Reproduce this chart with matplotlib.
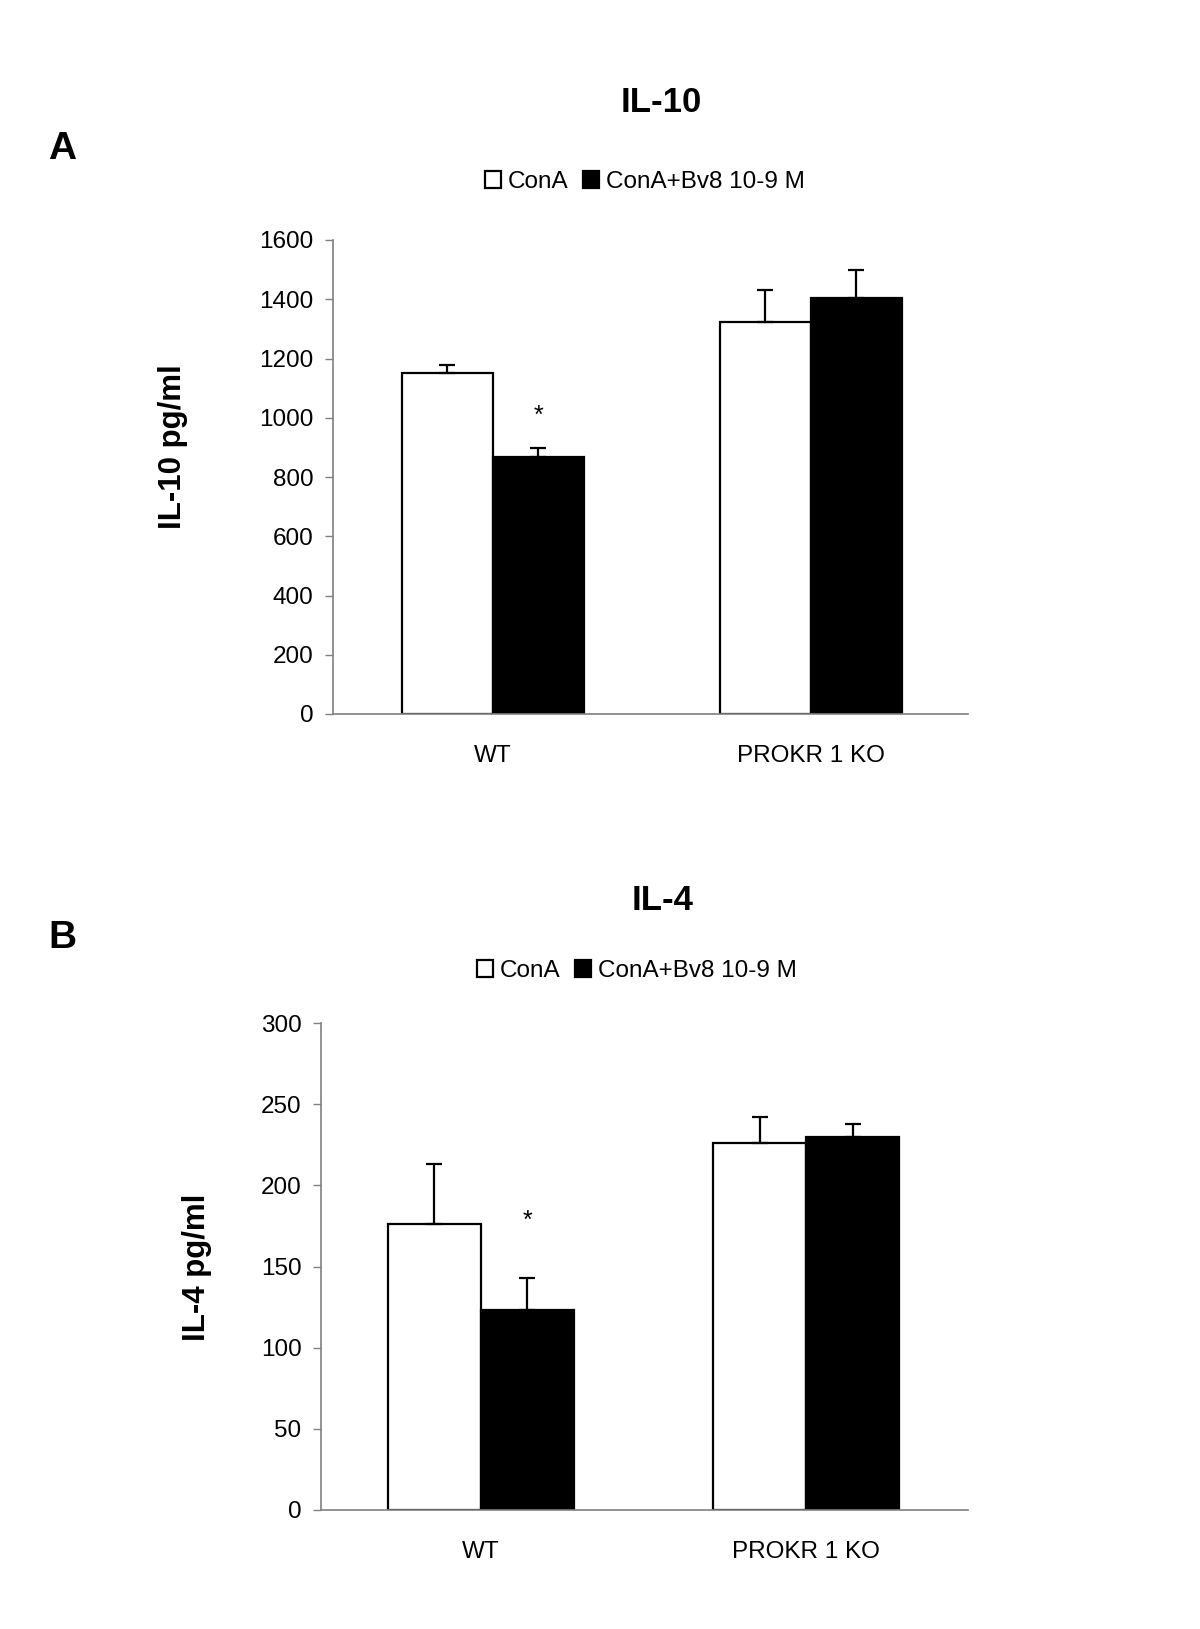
import numpy as np
import matplotlib
matplotlib.use("Agg")
import matplotlib.pyplot as plt

plt.rcParams['font.family'] = ['Liberation Sans', 'DejaVu Sans']

# Donnees
groupes = ["WT", "PROKR 1 KO"]
series = ["ConA", "ConA+Bv8 10-9 M"]

il10_cona = [1151, 1322]
il10_cona_err = [28, 110]
il10_bv8 = [866, 1404]
il10_bv8_err = [33, 96]
il10_ticks = [0, 200, 400, 600, 800, 1000, 1200, 1400, 1600]

il4_cona = [176, 226]
il4_cona_err = [37, 16]
il4_bv8 = [123, 230]
il4_bv8_err = [20, 8]
il4_ticks = [0, 50, 100, 150, 200, 250, 300]

# etoile (significatif) sur la barre Bv8 du WT
star_il10 = 1005
star_il4 = 178

W, H = 1200, 1629
fig = plt.figure(figsize=(W / 100, H / 100), dpi=100)

gris = '#808080'
bw = 0.286


def panneau(rect, xlim, cona, cona_err, bv8, bv8_err, ticks, star_y, ylab, lab_xy):
    ax = fig.add_axes(rect)
    x = np.arange(len(groupes))
    b1 = ax.bar(x - bw / 2, cona, bw, color='white', edgecolor='black', linewidth=1.6,
                label=series[0], zorder=2)
    b2 = ax.bar(x + bw / 2, bv8, bw, color='black', edgecolor='black', linewidth=1.6,
                label=series[1], zorder=2)
    ax.errorbar(x - bw / 2, cona, yerr=[np.zeros(len(cona)), cona_err], fmt='none',
                ecolor='black', elinewidth=1.6, capsize=6, capthick=1.6, zorder=3)
    ax.errorbar(x + bw / 2, bv8, yerr=[np.zeros(len(bv8)), bv8_err], fmt='none',
                ecolor='black', elinewidth=1.6, capsize=6, capthick=1.6, zorder=3)
    ax.text(x[0] + bw / 2, star_y, '*', ha='center', va='center', fontsize=18)

    ax.set_xlim(*xlim)
    ax.set_ylim(ticks[0], ticks[-1])
    ax.set_yticks(ticks)
    ax.set_yticklabels([str(t) for t in ticks])
    ax.set_xticks(x)
    ax.set_xticklabels(groupes)
    ax.tick_params(axis='x', length=0, pad=22, labelsize=17.5)
    ax.tick_params(axis='y', length=6, width=1, color=gris, pad=8, labelsize=17.5)
    for s in ['top', 'right']:
        ax.spines[s].set_visible(False)
    for s in ['left', 'bottom']:
        ax.spines[s].set_color(gris)
        ax.spines[s].set_linewidth(1.2)
    fig.text(lab_xy[0] / W, 1 - lab_xy[1] / H, ylab, rotation=90, ha='center', va='center',
             fontsize=22.5, fontweight='bold')
    return ax, b1, b2


# Panneau A
axA, a1, a2 = panneau([333 / W, 1 - 714 / H, 635 / W, 474 / H], (-0.503, 1.494),
                      il10_cona, il10_cona_err, il10_bv8, il10_bv8_err,
                      il10_ticks, star_il10, "IL-10 pg/ml", (173, 447))
# Panneau B
axB, c1, c2 = panneau([321 / W, 1 - 1510 / H, 647 / W, 487 / H], (-0.492, 1.498),
                      il4_cona, il4_cona_err, il4_bv8, il4_bv8_err,
                      il4_ticks, star_il4, "IL-4 pg/ml", (197, 1267))

fig.text(62 / W, 1 - 149 / H, "A", ha='center', va='center', fontsize=28, fontweight='bold')
fig.text(661 / W, 1 - 102 / H, "IL-10", ha='center', va='center', fontsize=25, fontweight='bold')
fig.text(62 / W, 1 - 938 / H, "B", ha='center', va='center', fontsize=28, fontweight='bold')
fig.text(663 / W, 1 - 900 / H, "IL-4", ha='center', va='center', fontsize=25, fontweight='bold')

for (h1, h2), (cx, cy) in [((a1, a2), (645, 182)), ((c1, c2), (637, 971))]:
    fig.legend([h1, h2], series, loc='center', bbox_to_anchor=(cx / W, 1 - cy / H),
               ncol=2, frameon=False, fontsize=17.5, handlelength=0.65, handleheight=0.65,
               handletextpad=0.3, columnspacing=0.6, borderpad=0)

fig.savefig("out.png", dpi=100, facecolor='white')
